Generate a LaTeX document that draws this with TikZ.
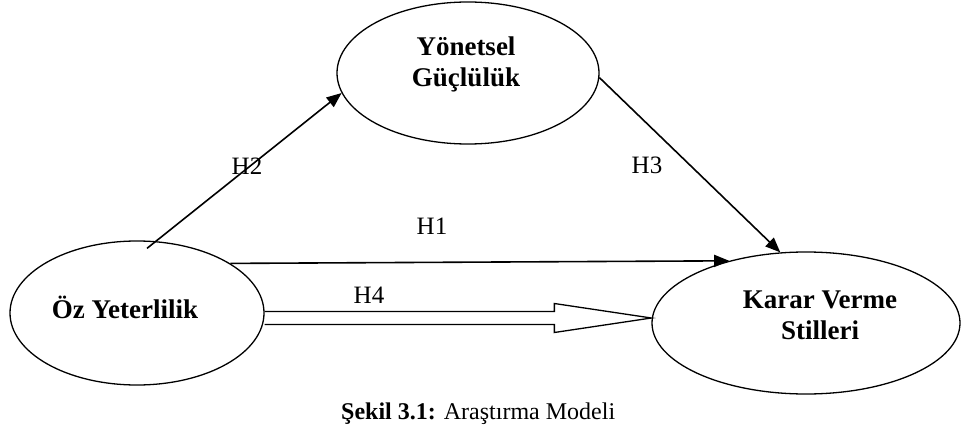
\documentclass[tikz,border=0pt]{standalone}
\usepackage{fontspec}
\setmainfont{Liberation Serif}
\usetikzlibrary{shapes.geometric,arrows.meta,calc}
\begin{document}
\begin{tikzpicture}[x=1pt,y=-1pt,
  latent/.style={draw, ellipse, line width=1.3pt, inner sep=0pt},
  lbl/.style={font=\fontsize{25}{25}\selectfont, inner sep=0pt, anchor=base},
  ttl/.style={font=\fontsize{27}{31}\selectfont\bfseries, inner sep=0pt, align=center},
  causal/.style={line width=1.6pt, -{Triangle[length=15pt,width=12pt]}},
  hollow/.style={line width=1.3pt, line join=miter}
]
\useasboundingbox (0,0) rectangle (961,425);
\clip (0,0) rectangle (961,425);

% latent constructs
\node[latent, minimum width=254pt, minimum height=144pt] (oz) at (137,313) {};
\node[latent, minimum width=262pt, minimum height=142pt] (yon) at (468,73) {};
\node[latent, minimum width=308pt, minimum height=142pt] (karar) at (806,323) {};

% construct names
\node[ttl, anchor=base] (ozt) at (125,318) {Öz Yeterlilik};
\node[ttl] (yont) at (466,64) {Yönetsel\\Güçlülük};
\node[ttl] (karart) at (820,315) {Karar Verme\\Stilleri};

% hypothesis labels
\node[lbl] (h1) at (432,234) {H1};
\node[lbl] (h2) at (247,175) {H2};
\node[lbl] (h3) at (647,173) {H3};
\node[lbl] (h4) at (369,303) {H4};

% paths
\draw[causal] ([shift={(10,8)}]oz.north) -- (yon.189);
\draw[causal] (yon.358) -- (karar.110);
\draw[causal] (oz.28) -- (karar.141);

% hollow block arrow H4
\coordinate (h4s) at ([shift={(0,5)}]oz.east);
\coordinate (h4e) at ([shift={(0,-5)}]karar.west);
\draw[hollow] ($(h4s)+(0,-6.5)$) -- ($(h4e)+(-97,-6.5)$) -- ($(h4e)+(-97,-14.5)$)
  -- (h4e) -- ($(h4e)+(-97,14.5)$) -- ($(h4e)+(-97,6.5)$) -- ($(h4s)+(0,6.5)$);

% caption
\node[lbl, font=\fontsize{24}{24}\selectfont, anchor=base west] (cap) at (341,419) {\textbf{Şekil 3.1:} Araştırma Modeli};
\end{tikzpicture}
\end{document}
